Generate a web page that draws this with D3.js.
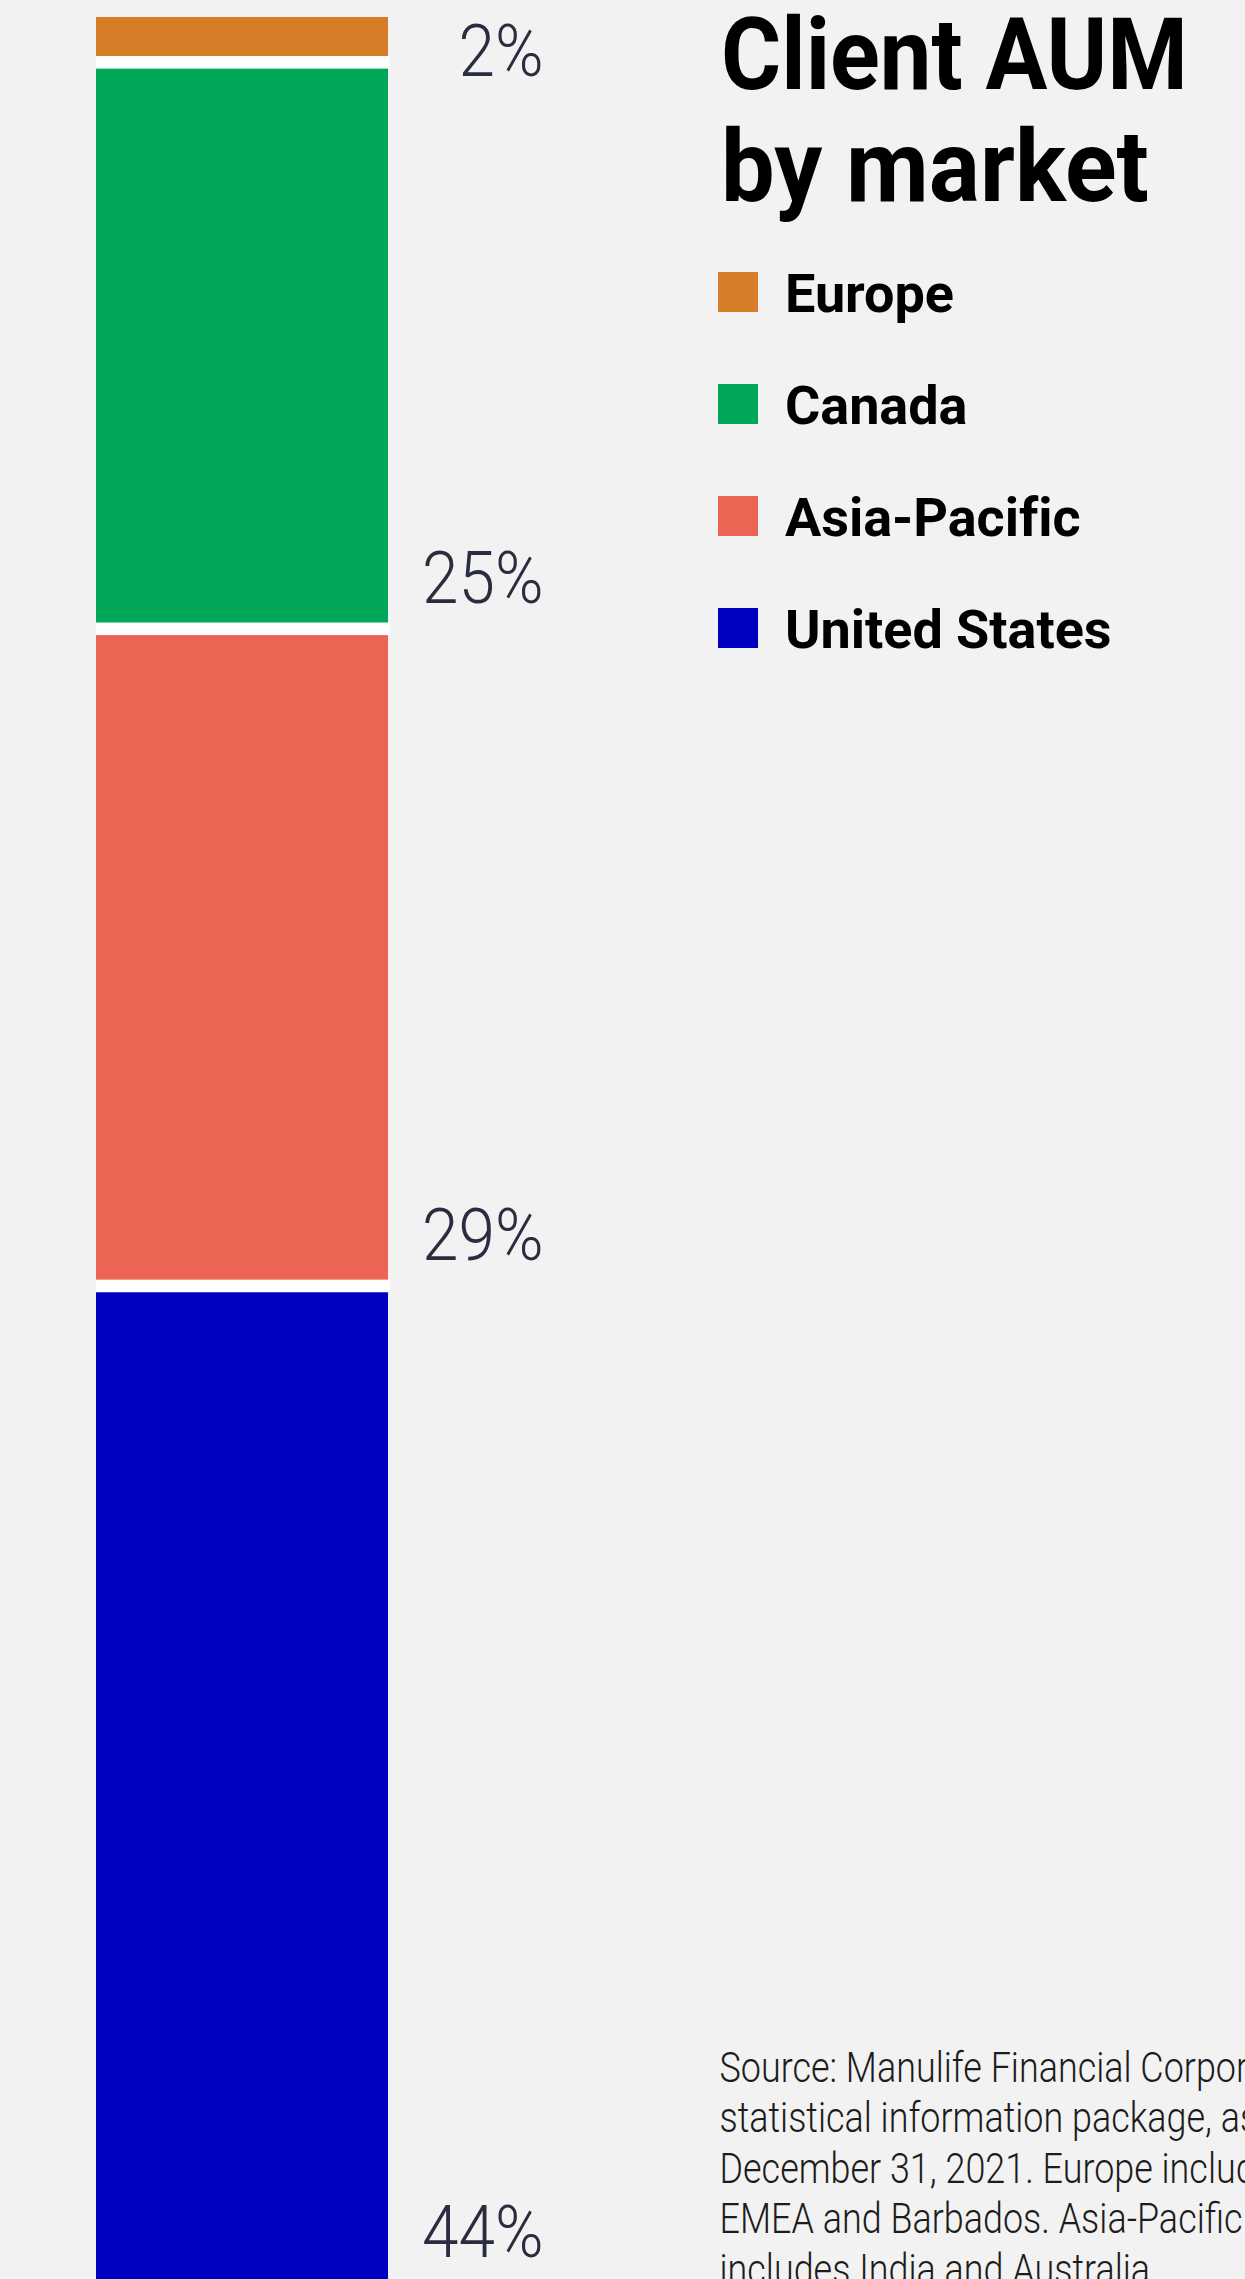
<!DOCTYPE html>
<html>
<head>
<meta charset="utf-8">
<script src="https://cdn.jsdelivr.net/npm/d3@7"></script>
<style>
  html, body { margin: 0; padding: 0; background: #f2f2f2; overflow: hidden; }
</style>
</head>
<body>
<script>
// Data, top of the bar to the bottom
const markets = ["Europe", "Canada", "Asia-Pacific", "United States"];
const shares = [2, 25, 29, 44];
const shareLabels = ["2%", "25%", "29%", "44%"];
const marketColors = ["#D77D28", "#00A758", "#EC6453", "#0000C1"];
const titleLines = ["Client AUM", "by market"];
const footnoteLines = [
    "Source: Manulife Financial Corporation",
    "statistical information package, as at",
    "December 31, 2021. Europe includes",
    "EMEA and Barbados. Asia-Pacific",
    "includes India and Australia."
];

const svgWidth = 1245;
const svgHeight = 2279;
const bar = {x: 96, width: 292, top: 17, bottom: 2283, gap: 12.6}
const titleWidths = [467, 428]  // measured widths of the two title lines

window.onload = main;

function main() {
    const svg = d3.select("body")
        .append("svg")
        .attr("width", svgWidth)
        .attr("height", svgHeight)
        .style("display", "block");

    svg.append("rect")
        .attr("width", svgWidth)
        .attr("height", svgHeight)
        .attr("fill", "#f2f2f2");

    // stacked positions
    const cum = d3.cumsum(shares);
    const stack = markets.map((m, i) => ({
        market: m, value: shares[i], label: shareLabels[i], color: marketColors[i],
        start: cum[i] - shares[i], end: cum[i]
    }));

    const y = d3.scaleLinear()
        .domain([0, d3.sum(shares)])
        .range([bar.top, bar.bottom]);

    const barG = svg.append("g").attr("id", "bar");
    barG.selectAll("rect.seg")
        .data(stack)
        .join("rect")
        .attr("class", "seg")
        .attr("x", bar.x)
        .attr("width", bar.width)
        .attr("y", d => y(d.start))
        .attr("height", d => y(d.end) - y(d.start))
        .attr("fill", d => d.color);

    // white separators between segments
    barG.selectAll("rect.sep")
        .data(stack.slice(0, -1))
        .join("rect")
        .attr("class", "sep")
        .attr("x", bar.x)
        .attr("width", bar.width + 1.5)
        .attr("y", d => y(d.end) - bar.gap / 2)
        .attr("height", bar.gap)
        .attr("fill", "#ffffff");

    // percentage labels, right aligned next to the bar (condensed light face)
    const labelX = 543.5;
    const labels = svg.append("g")
        .selectAll("text")
        .data(stack)
        .join("text")
        .attr("text-anchor", "end")
        .attr("fill", "#2a2d40")
        .style("font-family", "Roboto, 'Liberation Sans', sans-serif")
        .style("font-weight", 300)
        .style("font-size", "73px")
        .text(d => d.label);
    const w25 = labels.nodes()[1].getComputedTextLength();
    const labelScale = 121.5 / w25;
    labels.attr("transform", d => {
        const ly = Math.max(y(d.end) - 26, y(d.start) + 59);
        return `translate(${labelX}, ${ly}) scale(${labelScale}, 1)`;
    });

    // title, one text per line so each can be fitted
    const title = svg.append("g")
        .selectAll("text")
        .data(titleLines)
        .join("text")
        .attr("fill", "#000")
        .style("font-family", "Roboto, 'Liberation Sans', sans-serif")
        .style("font-weight", 700)
        .style("font-size", "100px")
        .text(d => d);
    title.attr("transform", function (d, i) {
        const s = titleWidths[i] / this.getComputedTextLength();
        return `translate(721, ${89 + i * 112}) scale(${s}, 1)`;
    });

    create_legend(svg, stack);

    // footnote, runs off the right edge like the original
    const foot = svg.append("text")
        .attr("fill", "#1c1c1c")
        .style("font-family", "Roboto, 'Liberation Sans', sans-serif")
        .style("font-weight", 300)
        .style("font-size", "42px");
    foot.selectAll("tspan")
        .data(footnoteLines)
        .join("tspan")
        .attr("x", 0)
        .attr("y", (d, i) => i * 50.5)
        .text(d => d);
    const wSrc = foot.select("tspan").node().getSubStringLength(0, 33);
    foot.attr("transform", `translate(719.5, 2082) scale(${528 / wSrc}, 1)`);
}

// spread letters so that one line reaches the wanted width
function fit_spacing(sel, node, target) {
    const w = node.getComputedTextLength();
    const n = node.textContent.length;
    sel.style("letter-spacing", `${(target - w) / (n - 1)}px`);
}

function create_legend(container, stack) {
    const rect_sizes = {width: 40, height: 40}
    const row = 112

    const legendGroups = container.append("g")
        .attr("id", "legend")
        .attr("transform", "translate(718, 272)")
        .selectAll("g")
        .data(stack)
        .join("g")
        .attr("transform", (d, i) => `translate(0, ${i * row})`);

    legendGroups.append("rect")
        .attr("width", rect_sizes.width)
        .attr("height", rect_sizes.height)
        .attr("fill", d => d.color);

    const texts = legendGroups.append("text")
        .attr("x", 67)
        .attr("y", 40)
        .attr("fill", "#000")
        .style("font-family", "Roboto, 'Liberation Sans', sans-serif")
        .style("font-weight", 700)
        .style("font-size", "54px")
        .text(d => d.market);
    fit_spacing(texts, texts.nodes()[3], 326.5);
}
</script>
</body>
</html>
